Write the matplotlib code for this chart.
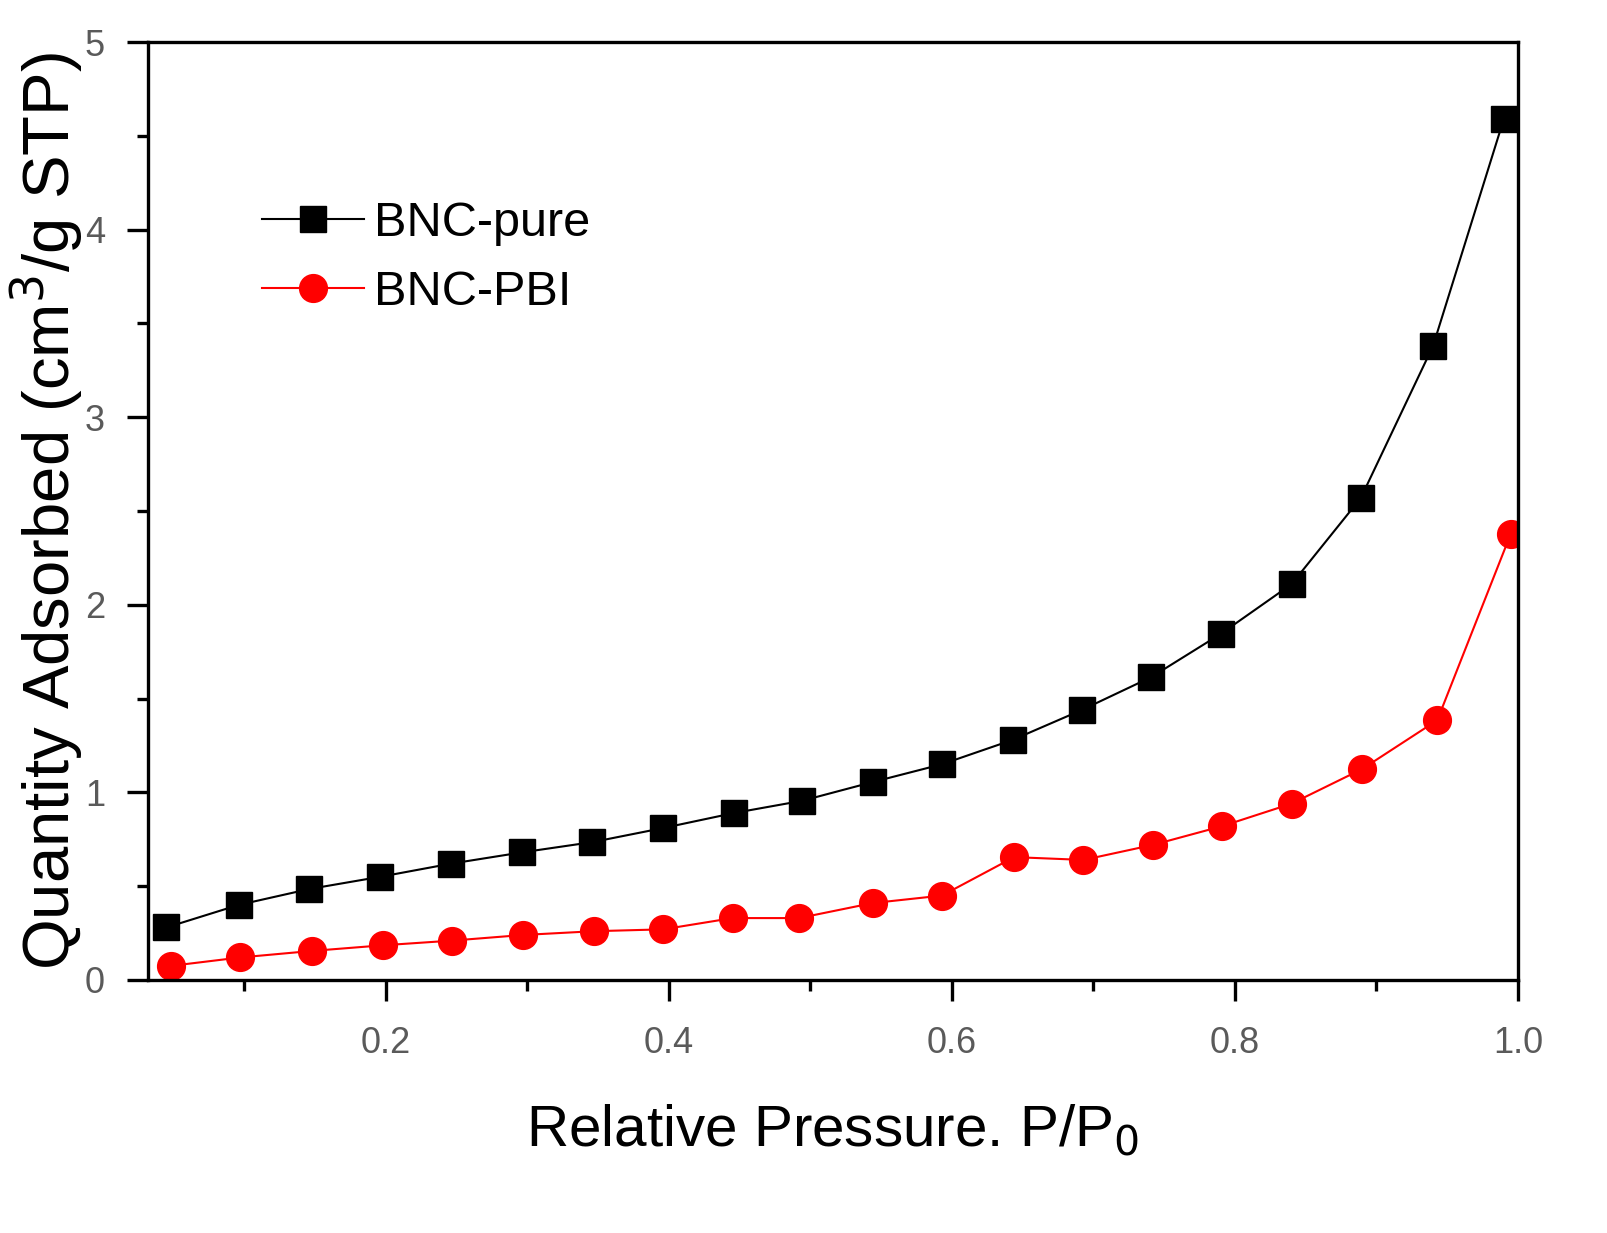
"""
N2 adsorption isotherm – BNC-pure vs BNC-PBI
"""

import matplotlib

matplotlib.use("Agg")
import matplotlib.pyplot as plt
from matplotlib.ticker import MultipleLocator

# ── data ────────────────────────────────────────────────────────────────────

p_pure = [0.045, 0.096, 0.146, 0.196, 0.246, 0.296, 0.346, 0.396, 0.446, 0.494,
          0.544, 0.593, 0.643, 0.692, 0.741, 0.790, 0.840, 0.889, 0.940, 0.990]
q_pure = [0.28, 0.40, 0.485, 0.55, 0.62, 0.68, 0.735, 0.81, 0.89, 0.955,
          1.055, 1.15, 1.28, 1.44, 1.615, 1.845, 2.11, 2.57, 3.38, 4.59]

p_pbi = [0.048, 0.097, 0.148, 0.198, 0.247, 0.297, 0.347, 0.396, 0.445, 0.492,
         0.544, 0.593, 0.644, 0.693, 0.742, 0.791, 0.840, 0.890, 0.943, 0.995]
q_pbi = [0.075, 0.12, 0.155, 0.185, 0.21, 0.24, 0.26, 0.27, 0.33, 0.33,
         0.41, 0.45, 0.655, 0.64, 0.72, 0.82, 0.94, 1.125, 1.385, 2.38]

x_ticks = [0.2, 0.4, 0.6, 0.8, 1.0]
y_ticks = [0, 1, 2, 3, 4, 5]

# ── plot ─────────────────────────────────────────────────────────────────────

plt.rcParams["font.family"] = ["Liberation Sans", "DejaVu Sans"]

fig = plt.figure(figsize=(16.07, 12.33), dpi=100)
ax = fig.add_axes([0.0921, 0.2052, 0.8525, 0.7607])

ax.plot(p_pure, q_pure, color="black", lw=1.5, marker="s", ms=19,
        label="BNC-pure")
ax.plot(p_pbi, q_pbi, color="red", lw=1.5, marker="o", ms=20,
        label="BNC-PBI")

ax.set_xlim(0.032, 1.0)
ax.set_ylim(0, 5)
ax.set_xticks(x_ticks)
ax.set_yticks(y_ticks)
ax.xaxis.set_minor_locator(MultipleLocator(0.1))
ax.yaxis.set_minor_locator(MultipleLocator(0.5))
ax.set_xticklabels(["0.2", "0.4", "0.6", "0.8", "1.0"])

for s in ax.spines.values():
    s.set_linewidth(2.4)
ax.tick_params(which="major", direction="out", length=15, width=2.4,
               labelsize=26, labelcolor="#5a5a5a", pad=18)
ax.tick_params(axis="y", which="major", pad=16)
ax.tick_params(which="minor", direction="out", length=8, width=2.4)

ax.set_xlabel("Relative Pressure. P/P$_0$", fontsize=42, labelpad=30)
ax.set_ylabel("Quantity Adsorbed (cm$^3$/g STP)", fontsize=47, labelpad=0)

ax.legend(loc="upper left", bbox_to_anchor=(0.083, 0.83), frameon=False,
          fontsize=35, handlelength=2.1, handletextpad=0.2, labelspacing=0.48,
          borderpad=0, borderaxespad=0)

fig.savefig("out.png", dpi=100)
plt.close(fig)
